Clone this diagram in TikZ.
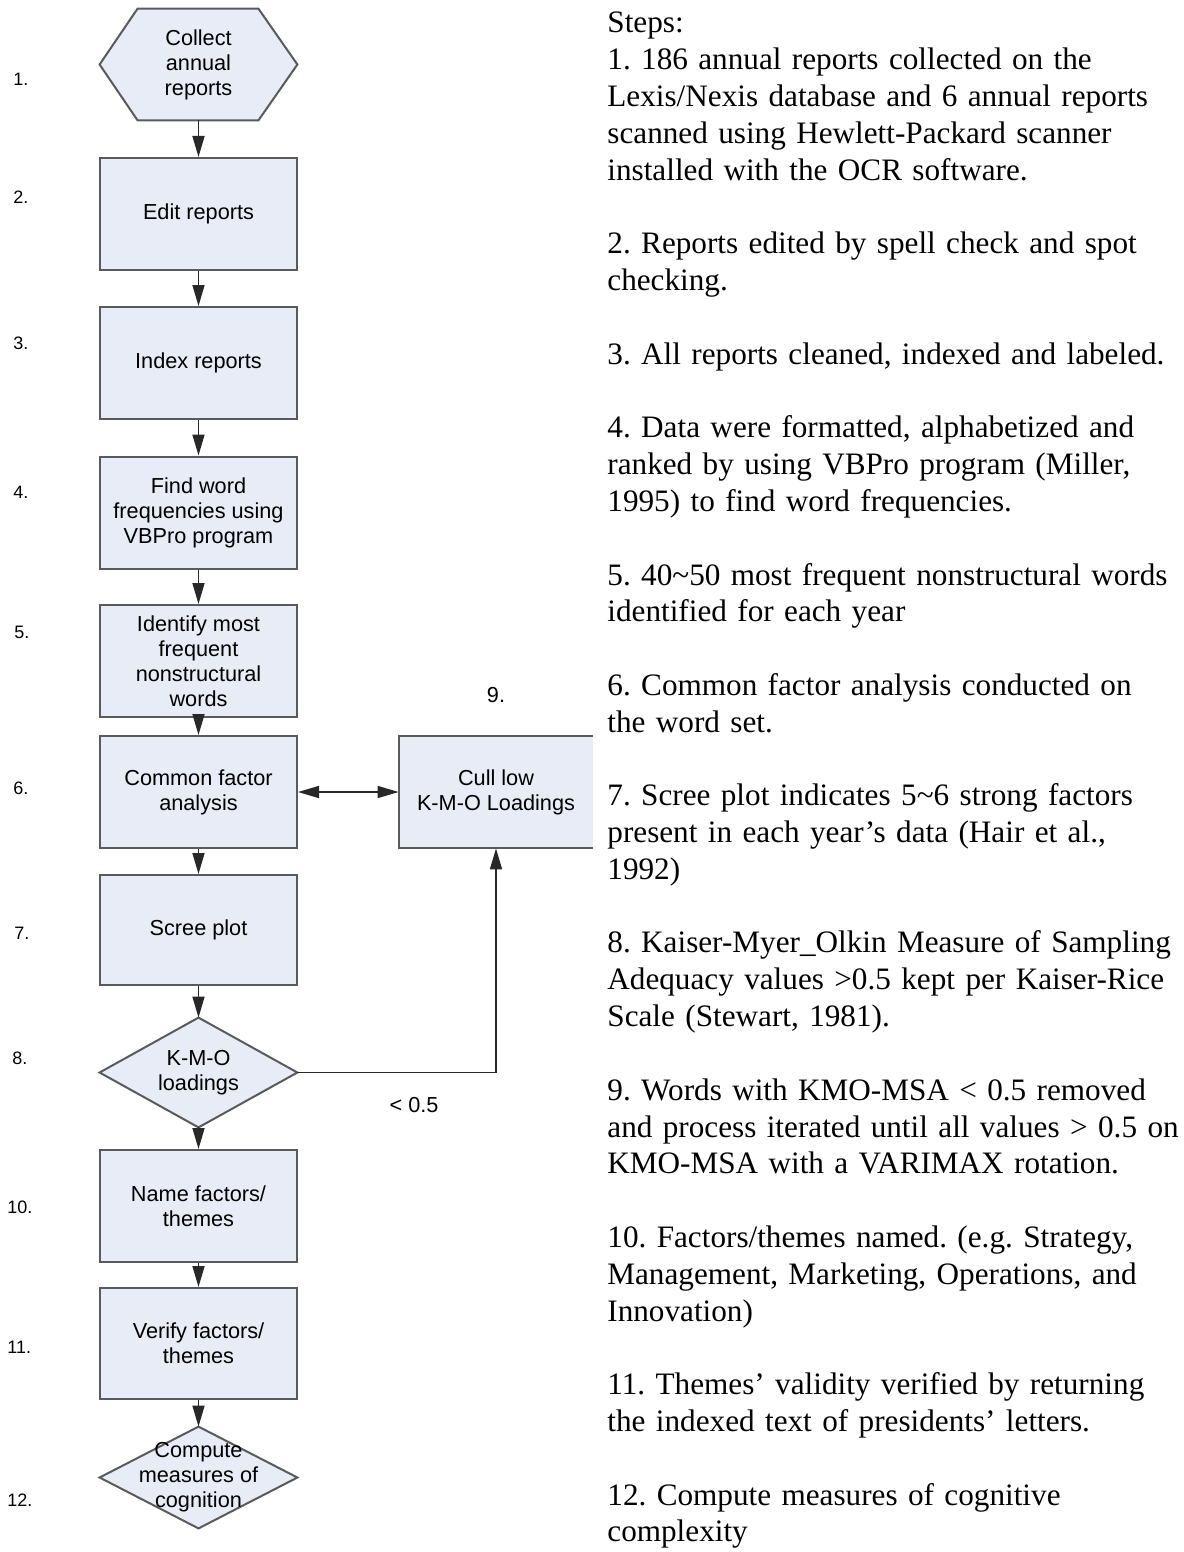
\documentclass[tikz,border=0pt]{standalone}
\usepackage{fontspec}
\setmainfont{Liberation Serif}
\newfontfamily\flowfont{Liberation Sans}
\usetikzlibrary{arrows.meta,backgrounds}

\definecolor{boxfill}{RGB}{232,236,246}
\definecolor{boxline}{RGB}{90,90,90}
\definecolor{linkline}{RGB}{40,40,40}

\tikzset{
  chartfont/.style={font={\flowfont\fontsize{10.85pt}{12.5pt}\selectfont}},
  stepbox/.style={chartfont, draw=boxline, fill=boxfill, line width=1pt,
    minimum width=98.5pt, minimum height=56pt, inner sep=0pt, align=center},
  shapeonly/.style={chartfont, inner sep=0pt, minimum width=98.5pt, align=center},
  outline/.style={draw=boxline, fill=boxfill, line width=1pt, line join=miter},
  link/.style={draw=linkline, line width=0.8pt, -{Triangle[length=10.5pt,width=6pt]}},
  linkboth/.style={draw=linkline, line width=0.8pt,
    {Triangle[length=10.5pt,width=6pt]}-{Triangle[length=10.5pt,width=6pt]}},
  numlabel/.style={font={\flowfont\fontsize{9pt}{10pt}\selectfont}, anchor=west, inner sep=0pt},
  notes/.style={anchor=base west, inner sep=0pt, text width=330pt, align=left,
    font={\fontsize{15.6pt}{18.4pt}\selectfont\frenchspacing}},
}

\begin{document}
\begin{tikzpicture}[x=0.5pt, y=-0.5pt]
\useasboundingbox (0,0) rectangle (1183,1552);

% flowchart steps
\node[shapeonly, minimum height=55.5pt] (hex) at (198.5,64.5) {Collect\\annual\\reports};
\node[stepbox] (b2) at (198.5,214) {Edit reports};
\node[stepbox] (b3) at (198.5,363) {Index reports};
\node[stepbox] (b4) at (198.5,512.5) {Find word\\frequencies using\\VBPro program};
\node[stepbox] (b5) at (198.5,661) {Identify most\\frequent\\nonstructural\\words};
\node[stepbox] (b6) at (198.5,792) {Common factor\\analysis};
\node[shapeonly, minimum width=97pt, minimum height=56pt] (cull) at (496,792) {Cull low\\K-M-O Loadings};
\node[stepbox, minimum height=55pt] (b7) at (198.5,930) {Scree plot};
\node[shapeonly, minimum height=54.5pt] (d8) at (198.5,1072.5) {K-M-O\\loadings};
\node[stepbox] (b10) at (198.5,1206) {Name factors/\\themes};
\node[stepbox, minimum height=55.5pt] (b11) at (198.5,1343.5) {Verify factors/\\themes};
\node[shapeonly, minimum height=50.5pt] (d12) at (198.5,1477.5) {Compute\\measures of\\cognition};

% outlines of the non-rectangular shapes and the open-sided cull box
\begin{scope}[on background layer]
  \path[outline] (hex.west) -- ([xshift=19pt]hex.north west) -- ([xshift=-19.5pt]hex.north east)
    -- (hex.east) -- ([xshift=-19.5pt]hex.south east) -- ([xshift=19pt]hex.south west) -- cycle;
  \path[outline] (d8.north) -- (d8.east) -- (d8.south) -- (d8.west) -- cycle;
  \path[outline] (d12.north) -- (d12.east) -- (d12.south) -- (d12.west) -- cycle;
  \fill[boxfill] (cull.north west) rectangle (cull.south east);
  \draw[boxline, line width=1pt, line join=miter]
    (cull.north east) -- (cull.north west) -- (cull.south west) -- (cull.south east);
\end{scope}

% connectors
\draw[link] (hex) -- (b2);
\draw[link] (b2) -- (b3);
\draw[link] (b3) -- (b4);
\draw[link] (b4) -- (b5);
\draw[link] (b5) -- (b6);
\draw[link] (b6) -- (b7);
\draw[link] (b7) -- (d8);
\draw[link] (d8) -- (b10);
\draw[link] (b10) -- (b11);
\draw[link] (b11) -- (d12);
\draw[linkboth] (b6) -- (cull);
\draw[link] (d8.east) -| (cull.south);

% step numbers
\node[numlabel] (n1) at (13,79) {1.};
\node[numlabel] (n2) at (13,197) {2.};
\node[numlabel] (n3) at (13,343) {3.};
\node[numlabel] (n4) at (13,492) {4.};
\node[numlabel] (n5) at (14,632) {5.};
\node[numlabel] (n6) at (13,788) {6.};
\node[numlabel] (n7) at (14,933) {7.};
\node[numlabel] (n8) at (12,1058) {8.};
\node[numlabel] (n10) at (7,1207) {10.};
\node[numlabel] (n11) at (7,1347) {11.};
\node[numlabel] (n12) at (7,1500) {12.};
\node[chartfont] (n9) at (496,695) {9.};
\node[chartfont] (lt) at (414,1105) {< 0.5};

% description of the steps
\node[notes] (steps) at (607,33) {Steps:\\
1. 186 annual reports collected on the\\
Lexis/Nexis database and 6 annual reports\\
scanned using Hewlett-Packard scanner\\
installed with the OCR software.\\[18.4pt]
2. Reports edited by spell check and spot\\
checking.\\[18.4pt]
3. All reports cleaned, indexed and labeled.\\[18.4pt]
4. Data were formatted, alphabetized and\\
ranked by using VBPro program (Miller,\\
1995) to find word frequencies.\\[18.4pt]
5. 40\textasciitilde 50 most frequent nonstructural words\\
identified for each year\\[18.4pt]
6. Common factor analysis conducted on\\
the word set.\\[18.4pt]
7. Scree plot indicates 5\textasciitilde 6 strong factors\\
present in each year’s data (Hair et al.,\\
1992)\\[18.4pt]
8. Kaiser-Myer\_Olkin Measure of Sampling\\
Adequacy values >0.5 kept per Kaiser-Rice\\
Scale (Stewart, 1981).\\[18.4pt]
9. Words with KMO-MSA < 0.5 removed\\
and process iterated until all values > 0.5 on\\
KMO-MSA with a VARIMAX rotation.\\[18.4pt]
10. Factors/themes named. (e.g. Strategy,\\
Management, Marketing, Operations, and\\
Innovation)\\[18.4pt]
11. Themes’ validity verified by returning\\
the indexed text of presidents’ letters.\\[18.4pt]
12. Compute measures of cognitive\\
complexity};
\end{tikzpicture}
\end{document}
